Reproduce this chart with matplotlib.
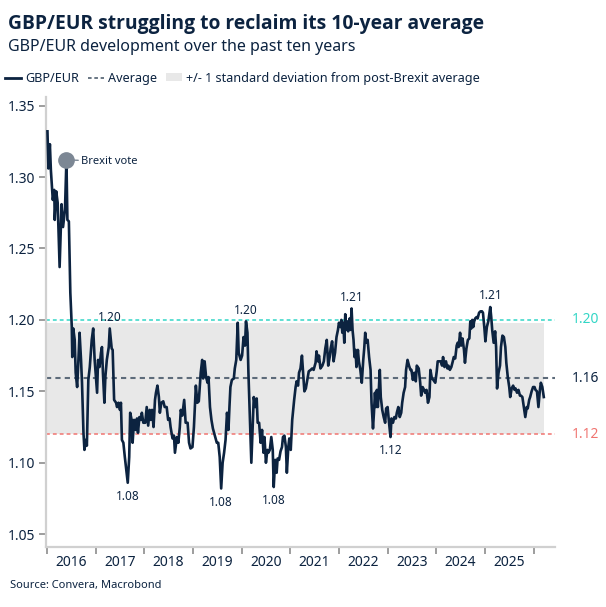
import matplotlib
matplotlib.use('Agg')
import matplotlib.pyplot as plt
from matplotlib.lines import Line2D
from matplotlib.patches import Patch

plt.rcParams['font.family'] = ['Noto Sans', 'DejaVu Sans']

# weekly-ish GBP/EUR readings (decimal year, rate)
t_years = [
    2016.01, 2016.03, 2016.06, 2016.08, 2016.12, 2016.15, 2016.16, 2016.19, 2016.22, 2016.26,
    2016.30, 2016.33, 2016.37, 2016.40, 2016.42, 2016.45, 2016.48, 2016.51, 2016.52, 2016.54,
    2016.57, 2016.59, 2016.62, 2016.64, 2016.67, 2016.70, 2016.72, 2016.75, 2016.77, 2016.80,
    2016.82, 2016.85, 2016.88, 2016.92, 2016.95, 2016.98, 2017.03, 2017.05, 2017.08, 2017.11,
    2017.13, 2017.15, 2017.18, 2017.20, 2017.23, 2017.27, 2017.29, 2017.33, 2017.35, 2017.38,
    2017.42, 2017.44, 2017.47, 2017.50, 2017.52, 2017.54, 2017.57, 2017.60, 2017.63, 2017.66,
    2017.69, 2017.71, 2017.74, 2017.76, 2017.79, 2017.82, 2017.85, 2017.87, 2017.90, 2017.93,
    2017.95, 2017.98, 2018.02, 2018.05, 2018.08, 2018.11, 2018.13, 2018.16, 2018.19, 2018.22,
    2018.24, 2018.27, 2018.30, 2018.32, 2018.35, 2018.39, 2018.42, 2018.46, 2018.49, 2018.52,
    2018.54, 2018.58, 2018.61, 2018.63, 2018.67, 2018.70, 2018.73, 2018.75, 2018.78, 2018.82,
    2018.85, 2018.89, 2018.92, 2018.95, 2018.99, 2019.02, 2019.06, 2019.09, 2019.12, 2019.16,
    2019.19, 2019.21, 2019.24, 2019.27, 2019.30, 2019.32, 2019.35, 2019.38, 2019.41, 2019.45,
    2019.49, 2019.52, 2019.55, 2019.58, 2019.61, 2019.64, 2019.67, 2019.70, 2019.73, 2019.75,
    2019.77, 2019.80, 2019.84, 2019.86, 2019.89, 2019.92, 2019.94, 2019.98, 2020.01, 2020.04,
    2020.07, 2020.09, 2020.12, 2020.14, 2020.17, 2020.20, 2020.23, 2020.25, 2020.28, 2020.31,
    2020.33, 2020.36, 2020.39, 2020.42, 2020.45, 2020.47, 2020.50, 2020.53, 2020.55, 2020.58,
    2020.61, 2020.64, 2020.66, 2020.69, 2020.72, 2020.74, 2020.77, 2020.80, 2020.83, 2020.85,
    2020.88, 2020.91, 2020.93, 2020.96, 2020.98, 2021.01, 2021.04, 2021.08, 2021.11, 2021.13,
    2021.16, 2021.18, 2021.21, 2021.24, 2021.27, 2021.29, 2021.32, 2021.35, 2021.38, 2021.42,
    2021.45, 2021.48, 2021.52, 2021.54, 2021.57, 2021.59, 2021.62, 2021.66, 2021.69, 2021.72,
    2021.75, 2021.78, 2021.81, 2021.83, 2021.86, 2021.89, 2021.92, 2021.95, 2021.98, 2022.00,
    2022.03, 2022.05, 2022.07, 2022.09, 2022.11, 2022.13, 2022.15, 2022.17, 2022.19, 2022.22,
    2022.24, 2022.26, 2022.28, 2022.30, 2022.32, 2022.34, 2022.36, 2022.39, 2022.41, 2022.44,
    2022.47, 2022.50, 2022.52, 2022.54, 2022.56, 2022.59, 2022.62, 2022.65, 2022.67, 2022.70,
    2022.72, 2022.74, 2022.76, 2022.78, 2022.80, 2022.82, 2022.84, 2022.86, 2022.89, 2022.92,
    2022.95, 2022.97, 2023.00, 2023.03, 2023.06, 2023.08, 2023.11, 2023.14, 2023.17, 2023.19,
    2023.22, 2023.25, 2023.28, 2023.30, 2023.33, 2023.36, 2023.38, 2023.41, 2023.44, 2023.47,
    2023.49, 2023.52, 2023.55, 2023.58, 2023.60, 2023.64, 2023.67, 2023.69, 2023.72, 2023.75,
    2023.77, 2023.80, 2023.83, 2023.86, 2023.88, 2023.91, 2023.94, 2023.98, 2024.01, 2024.03,
    2024.06, 2024.09, 2024.12, 2024.14, 2024.17, 2024.20, 2024.23, 2024.25, 2024.28, 2024.31,
    2024.34, 2024.36, 2024.39, 2024.42, 2024.44, 2024.46, 2024.49, 2024.51, 2024.54, 2024.57,
    2024.59, 2024.62, 2024.65, 2024.68, 2024.70, 2024.72, 2024.74, 2024.76, 2024.78, 2024.80,
    2024.83, 2024.85, 2024.88, 2024.91, 2024.94, 2024.96, 2024.99, 2025.01, 2025.04, 2025.07,
    2025.09, 2025.11, 2025.13, 2025.15, 2025.18, 2025.21, 2025.23, 2025.25, 2025.28, 2025.31,
    2025.33, 2025.36, 2025.39, 2025.42, 2025.44, 2025.47, 2025.50, 2025.52, 2025.55, 2025.58,
    2025.61, 2025.63, 2025.66, 2025.69, 2025.72, 2025.74, 2025.77, 2025.80, 2025.83, 2025.86,
    2025.88, 2025.91, 2025.93, 2025.96, 2025.99, 2026.02, 2026.04, 2026.07, 2026.10, 2026.13,
    2026.15, 2026.18, 2026.21,
]
gbp_eur = [
    1.332, 1.306, 1.323, 1.305, 1.284, 1.291, 1.270, 1.290, 1.282, 1.237,
    1.281, 1.265, 1.277, 1.312, 1.270, 1.269, 1.219, 1.195, 1.174, 1.194,
    1.186, 1.163, 1.153, 1.167, 1.191, 1.172, 1.156, 1.121, 1.109, 1.116,
    1.112, 1.158, 1.167, 1.186, 1.194, 1.172, 1.149, 1.172, 1.167, 1.177,
    1.181, 1.163, 1.142, 1.160, 1.172, 1.181, 1.194, 1.180, 1.179, 1.144,
    1.142, 1.139, 1.142, 1.137, 1.142, 1.116, 1.114, 1.104, 1.095, 1.086,
    1.104, 1.135, 1.130, 1.114, 1.130, 1.123, 1.131, 1.121, 1.132, 1.130,
    1.135, 1.128, 1.128, 1.139, 1.126, 1.137, 1.130, 1.137, 1.125, 1.144,
    1.149, 1.154, 1.146, 1.135, 1.142, 1.143, 1.139, 1.139, 1.130, 1.131,
    1.125, 1.117, 1.119, 1.107, 1.118, 1.114, 1.125, 1.137, 1.133, 1.144,
    1.128, 1.128, 1.114, 1.110, 1.111, 1.125, 1.154, 1.142, 1.143, 1.163,
    1.172, 1.159, 1.171, 1.160, 1.156, 1.160, 1.139, 1.130, 1.124, 1.119,
    1.114, 1.114, 1.104, 1.082, 1.100, 1.107, 1.116, 1.135, 1.123, 1.139,
    1.153, 1.158, 1.159, 1.166, 1.172, 1.198, 1.177, 1.172, 1.175, 1.188,
    1.182, 1.199, 1.191, 1.163, 1.132, 1.100, 1.128, 1.146, 1.139, 1.145,
    1.128, 1.128, 1.114, 1.123, 1.107, 1.118, 1.100, 1.109, 1.107, 1.109,
    1.118, 1.109, 1.083, 1.102, 1.093, 1.103, 1.102, 1.108, 1.111, 1.118,
    1.119, 1.111, 1.093, 1.111, 1.117, 1.109, 1.130, 1.144, 1.153, 1.157,
    1.154, 1.163, 1.166, 1.175, 1.160, 1.150, 1.152, 1.158, 1.164, 1.165,
    1.166, 1.165, 1.170, 1.178, 1.171, 1.175, 1.166, 1.168, 1.171, 1.180,
    1.186, 1.168, 1.174, 1.180, 1.185, 1.171, 1.177, 1.188, 1.193, 1.198,
    1.195, 1.200, 1.191, 1.198, 1.184, 1.204, 1.193, 1.199, 1.192, 1.201,
    1.193, 1.208, 1.193, 1.186, 1.174, 1.179, 1.167, 1.179, 1.171, 1.165,
    1.156, 1.172, 1.180, 1.191, 1.184, 1.186, 1.174, 1.165, 1.142, 1.124,
    1.135, 1.149, 1.139, 1.151, 1.139, 1.151, 1.165, 1.146, 1.137, 1.132,
    1.128, 1.138, 1.139, 1.128, 1.118, 1.131, 1.128, 1.132, 1.131, 1.135,
    1.139, 1.132, 1.135, 1.142, 1.149, 1.153, 1.165, 1.172, 1.168, 1.165,
    1.165, 1.158, 1.163, 1.157, 1.168, 1.166, 1.156, 1.147, 1.153, 1.151,
    1.149, 1.151, 1.142, 1.146, 1.165, 1.159, 1.158, 1.156, 1.164, 1.171,
    1.171, 1.171, 1.168, 1.174, 1.167, 1.171, 1.166, 1.168, 1.165, 1.167,
    1.171, 1.174, 1.173, 1.182, 1.184, 1.181, 1.191, 1.182, 1.187, 1.179,
    1.170, 1.180, 1.186, 1.187, 1.199, 1.194, 1.200, 1.195, 1.199, 1.201,
    1.202, 1.201, 1.205, 1.206, 1.206, 1.205, 1.194, 1.185, 1.195, 1.199,
    1.204, 1.209, 1.202, 1.193, 1.184, 1.192, 1.181, 1.152, 1.163, 1.168,
    1.181, 1.189, 1.188, 1.181, 1.170, 1.160, 1.153, 1.146, 1.152, 1.154,
    1.151, 1.152, 1.149, 1.151, 1.147, 1.147, 1.146, 1.139, 1.132, 1.139,
    1.138, 1.144, 1.146, 1.150, 1.153, 1.153, 1.151, 1.150, 1.139, 1.151,
    1.156, 1.153, 1.146,
]

avg_level = 1.159
band_lo = 1.120
band_hi = 1.198
upper_ref = 1.20
lower_ref = 1.12
ref_labels = ['1.20', '1.16', '1.12']
years = list(range(2016, 2027))
year_labels = [str(y) for y in range(2016, 2026)]
brexit_date = 2016.40

# (approx date, label, extreme type)
extreme_notes = [
    (2017.29, '1.20', 'max'),
    (2017.66, '1.08', 'min'),
    (2019.58, '1.08', 'min'),
    (2020.09, '1.20', 'max'),
    (2020.66, '1.08', 'min'),
    (2022.26, '1.21', 'max'),
    (2023.06, '1.12', 'min'),
    (2025.11, '1.21', 'max'),
]

navy = '#0c2340'
teal = '#33d6c6'
salmon = '#f07470'
avg_col = '#5d6b7a'

fig = plt.figure(figsize=(6.06, 6.07), dpi=100)
ax = fig.add_axes([0.0759, 0.0988, 0.8399, 0.7413])

ax.fill_between([2015.98, t_years[-1]], band_lo, band_hi, color='#e8e8e8', lw=0, zorder=0)
ax.axhline(upper_ref, color=teal, lw=1.1, ls=(0, (2.5, 2)), zorder=1)
ax.axhline(lower_ref, color=salmon, lw=1.1, ls=(0, (2.5, 2)), zorder=1)
ax.axhline(avg_level, color=avg_col, lw=1.5, ls=(0, (2.5, 2)), zorder=1)
ax.plot(t_years, gbp_eur, color=navy, lw=1.9, zorder=3)

# brexit vote marker
bi = min(range(len(t_years)), key=lambda i: abs(t_years[i] - brexit_date))
ax.plot(t_years[bi], gbp_eur[bi], 'o', ms=11, color='#7c8794', zorder=4)
ax.annotate('Brexit vote', xy=(t_years[bi], gbp_eur[bi]), xytext=(10.5, -1),
            textcoords='offset points', va='center', ha='left', fontsize=8, color=navy,
            arrowprops=dict(arrowstyle='-', color='#7c8794', lw=1, shrinkA=0, shrinkB=5))

for d, lab, kind in extreme_notes:
    idx = [i for i in range(len(t_years)) if abs(t_years[i] - d) < 0.05]
    if kind == 'max':
        i = max(idx, key=lambda k: gbp_eur[k])
        off = 8
    else:
        i = min(idx, key=lambda k: gbp_eur[k])
        off = -10
    ax.annotate(lab, xy=(t_years[i], gbp_eur[i]), xytext=(0, off), textcoords='offset points',
                ha='center', va='center', fontsize=8.5, color=navy)

for lvl, lab, col in zip([upper_ref, avg_level, lower_ref], ref_labels, [teal, navy, salmon]):
    ax.text(1.033, lvl, lab, transform=ax.get_yaxis_transform(), ha='left', va='center',
            fontsize=10, color=col)

ax.set_xlim(2015.98, 2026.44)
ax.set_ylim(1.041, 1.356)
ax.set_yticks([1.05, 1.10, 1.15, 1.20, 1.25, 1.30, 1.35])
ax.set_yticklabels(['1.05', '1.10', '1.15', '1.20', '1.25', '1.30', '1.35'])
ax.set_xticks(years)
ax.set_xticklabels([''] * len(years))
ax.set_xticks([y + 0.5 for y in range(2016, 2026)], minor=True)
ax.set_xticklabels(year_labels, minor=True)
ax.tick_params(axis='x', which='minor', length=0, pad=6, labelsize=10, labelcolor=navy)
ax.tick_params(axis='x', which='major', length=5, width=1.2, color='#8c8c8c')
ax.tick_params(axis='y', length=5, width=1.2, color='#8c8c8c', labelsize=10, labelcolor=navy, pad=3)

for s in ['top', 'right']:
    ax.spines[s].set_visible(False)
for s in ['left', 'bottom']:
    ax.spines[s].set_color('#d0d0d0')
    ax.spines[s].set_linewidth(1.6)

fig.text(0.013, 0.960, 'GBP/EUR struggling to reclaim its 10-year average', fontsize=13.85,
         fontweight='bold', color=navy, va='center', family=['Open Sans', 'DejaVu Sans'])
fig.text(0.013, 0.923, 'GBP/EUR development over the past ten years', fontsize=11.5,
         color=navy, va='center')
fig.text(0.016, 0.035, 'Source: Convera, Macrobond', fontsize=8, color=navy, va='center')

handles = [
    Line2D([], [], color=navy, lw=2),
    Line2D([], [], color=avg_col, lw=1.3, ls=(0, (2, 1.5))),
    Patch(facecolor='#e8e8e8', edgecolor='none'),
]
fig.legend(handles, ['GBP/EUR', 'Average', '+/- 1 standard deviation from post-Brexit average'],
           loc='center left', bbox_to_anchor=(0.0, 0.871), ncol=3, frameon=False,
           fontsize=9.1, handlelength=1.3, handletextpad=0.3, columnspacing=0.7,
           labelcolor=navy, borderaxespad=0, handleheight=0.6)

fig.savefig('out.png', dpi=100)
